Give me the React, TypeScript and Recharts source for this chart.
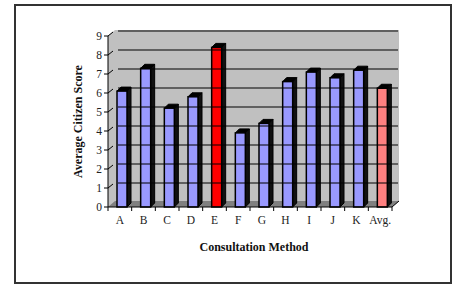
import React from 'react';
import { BarChart, Bar, XAxis, YAxis, Cell, ReferenceArea, ReferenceLine } from 'recharts';

const categories = ['A', 'B', 'C', 'D', 'E', 'F', 'G', 'H', 'I', 'J', 'K', 'Avg.'];
const scores = [6.1, 7.3, 5.2, 5.8, 8.4, 3.9, 4.4, 6.6, 7.1, 6.8, 7.2, 6.25];
const yTicks = [0, 1, 2, 3, 4, 5, 6, 7, 8, 9];
const highlight: Record<string, string> = { E: '#FF0000', 'Avg.': '#FF8080' };

const data = categories.map((c, i) => ({ name: c, score: scores[i] }));

const DX = 7;
const DY = 6;
const FONT = '"Liberation Serif", "Times New Roman", serif';

const Bar3D = (props: any) => {
  const { x, y, width, height, fill } = props;
  const bx = x + 2;
  const d = 4;
  return (
    <g>
      <polygon
        points={`${bx + width},${y} ${bx + width + d},${y - d} ${bx + width + d},${y + height - d} ${bx + width},${y + height}`}
        fill="#111"
        stroke="#000"
        strokeWidth={1}
      />
      <polygon
        points={`${bx},${y} ${bx + d},${y - d} ${bx + width + d},${y - d} ${bx + width},${y}`}
        fill="#000"
        stroke="#000"
        strokeWidth={1}
      />
      <rect x={bx} y={y} width={width} height={height} fill={fill} stroke="#000" strokeWidth={1.5} />
    </g>
  );
};

const Wall = (props: any) => {
  const { x, y, width, height } = props;
  const b = y + height;
  return (
    <g>
      <polygon
        points={`${x},${b} ${x},${y} ${x + DX},${y - DY} ${x + width + DX},${y - DY} ${x + width + DX},${b - DY} ${x + width},${b}`}
        fill="#C0C0C0"
      />
      <polygon
        points={`${x},${b} ${x + DX},${b - DY} ${x + width + DX},${b - DY} ${x + width},${b}`}
        fill="#808080"
      />
      <line x1={x + width} y1={b} x2={x + width + DX} y2={b - DY} stroke="#000" strokeWidth={1} />
    </g>
  );
};

const GridLine = (props: any) => {
  const { x1, y1, x2 } = props;
  return (
    <g>
      <line x1={x1} y1={y1} x2={x1 + 5} y2={y1 - 4} stroke="#000" strokeWidth={1} />
      <line x1={x1 + 10} y1={y1 - 5} x2={x2 + 6} y2={y1 - 5} stroke="#000" strokeWidth={1.2} />
    </g>
  );
};

const XTick = (props: any) => {
  const { x, payload, index, visibleTicksCount } = props;
  const off = payload.offset || 0;
  const axisY = 207;
  return (
    <g>
      <line x1={x - off} y1={axisY} x2={x - off} y2={axisY + 4} stroke="#000" />
      {index === (visibleTicksCount ?? categories.length) - 1 && (
        <line x1={x + off} y1={axisY} x2={x + off} y2={axisY + 4} stroke="#000" />
      )}
      <text x={x} y={axisY + 17} textAnchor="middle" fontSize={11.5} fill="#222" fontFamily={FONT}>
        {payload.value}
      </text>
    </g>
  );
};

const XTitle = (props: any) => {
  const vb = props.viewBox || {};
  const cx = vb.x + vb.width / 2 + 4;
  return (
    <text x={cx} y={251} textAnchor="middle" fontSize={12} fontWeight="bold" fill="#111" fontFamily={FONT}>
      Consultation Method
    </text>
  );
};

const YTitle = (props: any) => {
  const vb = props.viewBox || {};
  const cy = vb.y + vb.height / 2;
  const cx = 82;
  return (
    <text
      x={cx}
      y={cy}
      transform={`rotate(-90, ${cx}, ${cy})`}
      textAnchor="middle"
      fontSize={12}
      fontWeight="bold"
      fill="#111"
      fontFamily={FONT}
    >
      Average Citizen Score
    </text>
  );
};

export default function App() {
  return (
    <div style={{ position: 'absolute', left: 0, top: 0, width: 457, height: 284, background: '#fff' }}>
      <div
        style={{
          position: 'absolute',
          left: 14,
          top: 4,
          width: 438,
          height: 280,
          border: '2px solid #333',
          boxSizing: 'border-box',
        }}
      />
      <div style={{ position: 'absolute', left: 0, top: 0 }}>
        <BarChart width={457} height={284} data={data} margin={{ top: 36, right: 65, bottom: 0, left: 0 }}>
          <ReferenceArea y1={0} y2={9} shape={<Wall />} ifOverflow="visible" />
          {yTicks
            .filter((t) => t > 0)
            .map((t) => (
              <ReferenceLine key={t} y={t} shape={<GridLine />} ifOverflow="visible" />
            ))}
          <XAxis
            dataKey="name"
            height={77}
            tickLine={false}
            tick={<XTick />}
            axisLine={{ stroke: '#000', strokeWidth: 1 }}
            interval={0}
            label={<XTitle />}
          />
          <YAxis
            width={108}
            domain={[0, 9]}
            ticks={yTicks}
            interval={0}
            tickSize={4}
            tickMargin={2}
            tickLine={{ stroke: '#000' }}
            axisLine={{ stroke: '#000', strokeWidth: 1 }}
            tick={{ fontSize: 11.5, fill: '#222', fontFamily: FONT }}
            label={<YTitle />}
          />
          <Bar dataKey="score" barSize={10} shape={<Bar3D />} isAnimationActive={false}>
            {data.map((d) => (
              <Cell key={d.name} fill={highlight[d.name] || '#9999FF'} />
            ))}
          </Bar>
        </BarChart>
      </div>
    </div>
  );
}
